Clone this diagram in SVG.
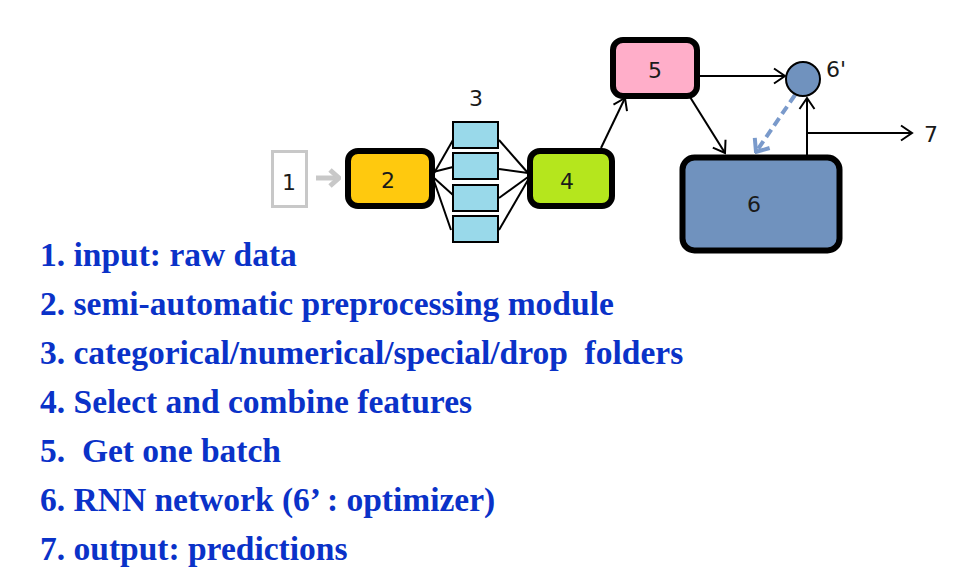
<svg xmlns="http://www.w3.org/2000/svg" width="959" height="585" viewBox="0 0 959 585">
<style>
  .lbl { font-family: "DejaVu Sans", "Liberation Sans", sans-serif; font-size: 22px; fill: #1a1a1a; text-anchor: middle; }
  .box { stroke: #000; stroke-width: 6; }
  .fold { fill: #99d9ea; stroke: #000; stroke-width: 2; }
  .con { stroke: #000; stroke-width: 2; fill: none; }
  .item { font-family: "Liberation Serif", "Times New Roman", serif; font-weight: bold; font-size: 33.5px; fill: #0a32c8; }
</style>
<defs>
  <marker id="chev" markerUnits="userSpaceOnUse" viewBox="-13 -10 15 20" refX="0" refY="0" markerWidth="15" markerHeight="20" orient="auto">
    <path d="M-11,-7.5 L0,0 L-11,7.5" fill="none" stroke="#000" stroke-width="2"/>
  </marker>
  <marker id="chevGray" markerUnits="userSpaceOnUse" viewBox="-14 -11 16 22" refX="0" refY="0" markerWidth="16" markerHeight="22" orient="auto">
    <path d="M-9,-8 L0,0 L-9,8" fill="none" stroke="#c8c8c8" stroke-width="5"/>
  </marker>
  <marker id="chevBlue" markerUnits="userSpaceOnUse" viewBox="-14 -11 16 22" refX="0" refY="0" markerWidth="16" markerHeight="22" orient="auto">
    <path d="M-11,-9 L0,0 L-11,9" fill="none" stroke="#7a9acb" stroke-width="4"/>
  </marker>
</defs>

<g id="connectors">
  <line x1="316" y1="178" x2="339" y2="178" stroke="#c8c8c8" stroke-width="5" marker-end="url(#chevGray)"/>
  <line class="con" x1="433" y1="175" x2="453" y2="140"/>
  <line class="con" x1="433" y1="172" x2="453" y2="167"/>
  <line class="con" x1="433" y1="177" x2="453" y2="195"/>
  <line class="con" x1="433" y1="178" x2="451" y2="230"/>
  <line class="con" x1="499" y1="140" x2="528" y2="173"/>
  <line class="con" x1="499" y1="169" x2="528" y2="173"/>
  <line class="con" x1="499" y1="198" x2="528" y2="177"/>
  <line class="con" x1="499" y1="230" x2="528" y2="180"/>
  <line class="con" x1="601" y1="148" x2="625" y2="98" marker-end="url(#chev)"/>
  <line class="con" x1="699" y1="76" x2="785" y2="76" marker-end="url(#chev)"/>
  <line class="con" x1="690" y1="97" x2="725" y2="153" marker-end="url(#chev)"/>
  <line x1="795" y1="95" x2="756" y2="152" stroke="#7a9acb" stroke-width="4" stroke-dasharray="9,5" marker-end="url(#chevBlue)"/>
  <line class="con" x1="807" y1="155" x2="807" y2="98" marker-end="url(#chev)"/>
  <line class="con" x1="807" y1="133" x2="912" y2="133" marker-end="url(#chev)"/>
</g>

<g id="node1">
  <rect x="272.5" y="151.5" width="34" height="55" fill="#fff" stroke="#c8c8c8" stroke-width="3"/>
  <text class="lbl" x="289" y="190">1</text>
</g>
<g id="node2">
  <rect class="box" x="348" y="151" width="84" height="55" rx="10" fill="#ffc90e"/>
  <text class="lbl" x="388" y="188">2</text>
</g>
<g id="node3">
  <rect class="fold" x="453" y="122" width="45" height="26"/>
  <rect class="fold" x="453" y="153" width="45" height="26"/>
  <rect class="fold" x="453" y="185" width="45" height="26"/>
  <rect class="fold" x="453" y="216" width="45" height="26"/>
  <text class="lbl" x="476" y="106">3</text>
</g>
<g id="node4">
  <rect class="box" x="530" y="151" width="82" height="55" rx="10" fill="#b5e61d"/>
  <text class="lbl" x="567" y="189">4</text>
</g>
<g id="node5">
  <rect class="box" x="613" y="40" width="84" height="56" rx="10" fill="#ffaec9"/>
  <text class="lbl" x="655" y="78">5</text>
</g>
<g id="node6p">
  <circle cx="803" cy="79" r="17" fill="#7092be" stroke="#000" stroke-width="2"/>
  <text class="lbl" x="836" y="77">6'</text>
</g>
<g id="node6">
  <rect x="682.5" y="157.5" width="157" height="93" rx="12" fill="#7092be" stroke="#000" stroke-width="6"/>
  <text class="lbl" x="754" y="212">6</text>
</g>
<g id="node7">
  <text class="lbl" x="931" y="142">7</text>
</g>

<g id="legend">
  <text class="item" x="40" y="266">1. input: raw data</text>
  <text class="item" x="40" y="315">2. semi-automatic preprocessing module</text>
  <text class="item" x="40" y="364" xml:space="preserve">3. categorical/numerical/special/drop  folders</text>
  <text class="item" x="40" y="413">4. Select and combine features</text>
  <text class="item" x="40" y="462" xml:space="preserve">5.  Get one batch</text>
  <text class="item" x="40" y="511">6. RNN network (6’ : optimizer)</text>
  <text class="item" x="40" y="560">7. output: predictions</text>
</g>
</svg>
